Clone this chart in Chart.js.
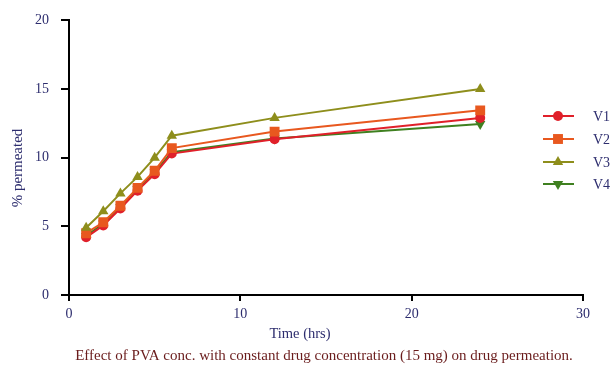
<!DOCTYPE html>
<html>
<head>
<meta charset="utf-8">
<script src="https://cdn.jsdelivr.net/npm/chart.js@4/dist/chart.umd.min.js"></script>
<style>
html,body{margin:0;padding:0;background:#fff;}
#wrap{width:611px;height:365px;}
</style>
</head>
<body>
<div id="wrap"><canvas id="c" width="611" height="365"></canvas></div>
<script>
const timeHrs = [1, 2, 3, 4, 5, 6, 12, 24];
const v1 = [4.2, 5.07, 6.3, 7.6, 8.8, 10.3, 11.35, 12.9];
const v2 = [4.5, 5.3, 6.5, 7.8, 9.05, 10.7, 11.9, 13.45];
const v3 = [4.9, 6.1, 7.4, 8.6, 10.0, 11.6, 12.9, 15.0];
const v4 = [4.3, 5.2, 6.4, 7.7, 8.95, 10.4, 11.4, 12.45];
const seriesNames = ['V1', 'V2', 'V3', 'V4'];
const xTicks = [0, 10, 20, 30];
const yTicks = [0, 5, 10, 15, 20];
const xTitle = 'Time (hrs)';
const yTitle = '% permeated';
const caption = 'Effect of PVA conc. with constant drug concentration (15 mg) on drug permeation.';

const colors = ['#e0202a', '#e8581f', '#8e8e1c', '#3f8020'];
const styles = [
  {pointStyle: 'circle', pointRadius: 5, rotation: 0},
  {pointStyle: 'rect', pointRadius: 7, rotation: 0},
  {pointStyle: 'triangle', pointRadius: 6, rotation: 0},
  {pointStyle: 'triangle', pointRadius: 6, rotation: 180}
];
const allData = [v1, v2, v3, v4];
const order = [2, 1, 0, 3];

const serif = "'Liberation Serif', 'Times New Roman', serif";
const navy = '#2d2d6e';

const datasets = order.map(i => ({
  label: seriesNames[i],
  data: timeHrs.map((t, k) => ({x: t, y: allData[i][k]})),
  borderColor: colors[i],
  backgroundColor: colors[i],
  borderWidth: 2,
  pointStyle: styles[i].pointStyle,
  pointRadius: styles[i].pointRadius,
  pointRotation: styles[i].rotation,
  pointBorderWidth: 0,
  pointHoverRadius: styles[i].pointRadius,
  tension: 0
}));

const extraText = {
  id: 'extraText',
  afterDraw(chart) {
    const ctx = chart.ctx;
    ctx.save();
    // legend
    const lx1 = 543, lx2 = 574, mx = 558, tx = 593;
    const ys = [116, 139, 162, 184];
    seriesNames.forEach((name, i) => {
      const y = ys[i];
      ctx.strokeStyle = colors[i];
      ctx.lineWidth = 2;
      ctx.beginPath(); ctx.moveTo(lx1, y); ctx.lineTo(lx2, y); ctx.stroke();
      ctx.fillStyle = colors[i];
      Chart.helpers.drawPoint(ctx, {pointStyle: styles[i].pointStyle, radius: styles[i].pointRadius, rotation: styles[i].rotation, borderWidth: 0}, mx, y);
      ctx.fillStyle = navy;
      ctx.font = "14px " + serif;
      ctx.textAlign = 'left';
      ctx.textBaseline = 'middle';
      ctx.fillText(name, tx, y + 1);
    });
    // x title
    ctx.fillStyle = navy;
    ctx.font = "14.5px " + serif;
    ctx.textAlign = 'center';
    ctx.textBaseline = 'middle';
    ctx.fillText(xTitle, 300, 334);
    // y title
    ctx.save();
    ctx.translate(18, 168);
    ctx.rotate(-Math.PI / 2);
    ctx.font = "15px " + serif;
    ctx.fillText(yTitle, 0, 0);
    ctx.restore();
    // caption
    ctx.fillStyle = '#6a1c1c';
    ctx.font = "15px " + serif;
    ctx.fillText(caption, 324, 356);
    ctx.restore();
  }
};

new Chart(document.getElementById('c'), {
  type: 'line',
  data: {datasets},
  options: {
    responsive: false,
    animation: false,
    layout: {padding: {top: 19, right: 28, bottom: 0, left: 0}},
    plugins: {legend: {display: false}, tooltip: {enabled: false}, title: {display: false}},
    scales: {
      x: {
        type: 'linear', min: 0, max: 30,
        afterBuildTicks: s => { s.ticks = xTicks.map(v => ({value: v})); },
        afterFit: s => { s.height = 70; },
        grid: {drawOnChartArea: false, color: '#000', lineWidth: 2, tickLength: 6, drawTicks: true},
        border: {color: '#000', width: 2},
        ticks: {color: navy, font: {family: serif, size: 14}, padding: 5, maxRotation: 0}
      },
      y: {
        type: 'linear', min: 0, max: 20,
        afterBuildTicks: s => { s.ticks = yTicks.map(v => ({value: v})); },
        afterFit: s => { s.width = 69; },
        grid: {drawOnChartArea: false, color: '#000', lineWidth: 2, tickLength: 8, drawTicks: true},
        border: {color: '#000', width: 2},
        ticks: {color: navy, font: {family: serif, size: 14}, padding: 12}
      }
    }
  },
  plugins: [extraText]
});
</script>
</body>
</html>
